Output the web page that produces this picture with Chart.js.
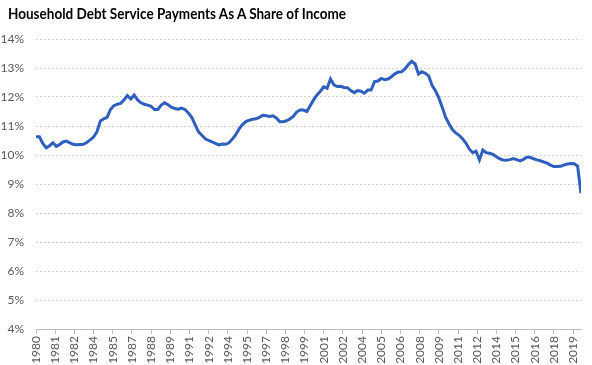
<!DOCTYPE html>
<html>
<head>
<meta charset="utf-8">
<script src="https://cdn.jsdelivr.net/npm/chart.js@4/dist/chart.umd.min.js"></script>
<style>
  html, body { margin: 0; padding: 0; background: #fff; }
  #wrap { position: relative; width: 592px; height: 365px; }
  #title {
    position: absolute; left: 8px; top: 3px; margin: 0;
    font: bold 16px/19px Lato, "Open Sans", sans-serif; color: #000;
    white-space: nowrap; transform: scaleX(0.845); transform-origin: 0 0;
  }
  canvas { position: absolute; left: 0; top: 0; }
</style>
</head>
<body>
<div id="wrap">
  <canvas id="dsrChart" width="592" height="365"></canvas>
  <div id="title">Household Debt Service Payments As A Share of Income</div>
</div>
<script>
// Quarterly, 1980 Q1 .. 2020 Q2 (percent of disposable income)
const ratio = [
  10.63, 10.63, 10.40, 10.25,  // 1980
  10.32, 10.42, 10.30, 10.36,  // 1981
  10.45, 10.48, 10.42, 10.37,  // 1982
  10.35, 10.36, 10.37, 10.43,  // 1983
  10.52, 10.62, 10.80, 11.17,  // 1984
  11.25, 11.30, 11.57, 11.70,  // 1985
  11.75, 11.78, 11.90, 12.05,  // 1986
  11.93, 12.07, 11.90, 11.80,  // 1987
  11.75, 11.72, 11.68, 11.57,  // 1988
  11.57, 11.72, 11.80, 11.73,  // 1989
  11.65, 11.60, 11.58, 11.62,  // 1990
  11.57, 11.45, 11.30, 11.05,  // 1991
  10.80, 10.68, 10.56, 10.50,  // 1992
  10.45, 10.40, 10.35, 10.38,  // 1993
  10.37, 10.42, 10.55, 10.70,  // 1994
  10.90, 11.05, 11.15, 11.20,  // 1995
  11.23, 11.25, 11.30, 11.37,  // 1996
  11.35, 11.33, 11.35, 11.28,  // 1997
  11.15, 11.15, 11.18, 11.24,  // 1998
  11.33, 11.48, 11.55, 11.55,  // 1999
  11.50, 11.70, 11.90, 12.07,  // 2000
  12.20, 12.35, 12.30, 12.62,  // 2001
  12.42, 12.36, 12.37, 12.33,  // 2002
  12.32, 12.22, 12.15, 12.22,  // 2003
  12.20, 12.13, 12.24, 12.24,  // 2004
  12.53, 12.55, 12.64, 12.60,  // 2005
  12.62, 12.70, 12.80, 12.86,  // 2006
  12.87, 12.97, 13.12, 13.23,  // 2007
  13.14, 12.79, 12.87, 12.82,  // 2008
  12.73, 12.40, 12.22, 11.97,  // 2009
  11.65, 11.30, 11.08, 10.88,  // 2010
  10.76, 10.68, 10.56, 10.41,  // 2011
  10.21, 10.08, 10.13, 9.83,   // 2012
  10.17, 10.08, 10.06, 10.02,  // 2013
  9.94, 9.87, 9.83, 9.82,      // 2014
  9.84, 9.88, 9.84, 9.80,      // 2015
  9.85, 9.92, 9.92, 9.87,      // 2016
  9.83, 9.80, 9.76, 9.72,      // 2017
  9.65, 9.60, 9.60, 9.61,      // 2018
  9.66, 9.69, 9.71, 9.70,      // 2019
  9.62, 8.68                   // 2020
];

// x axis labels as Excel printed them (one every 17 months)
const yearLabels = [
  '1980', '1981', '1982', '1984', '1985', '1987', '1988', '1989', '1991', '1992',
  '1994', '1995', '1997', '1998', '1999', '2001', '2002', '2004', '2005', '2006',
  '2008', '2009', '2011', '2012', '2014', '2015', '2016', '2018', '2019'
];
const labelStep = 17 / 3; // in quarters

const yMin = 4;
const yMax = 14;

const quarters = ratio.map((v, i) => (1980 + Math.floor(i / 4)) + ' Q' + (i % 4 + 1));

const axisFont = { family: 'Lato, "Open Sans", sans-serif', size: 12 };
const gray = '#595959';

const ctx = document.getElementById('dsrChart').getContext('2d');
const dsrChart = new Chart(ctx, {
    type: 'line',
    data: {
        datasets: [{
            label: 'Debt service ratio',
            data: ratio.map((v, i) => ({ x: i, y: v, q: quarters[i] })),
            borderColor: '#2f5fbd',
            borderWidth: 3,
            pointRadius: 0,
            tension: 0,
            fill: false
        }]
    },
    options: {
        responsive: false,
        animation: false,
        layout: { padding: { left: 0, right: 11, top: 39, bottom: 0 } },
        plugins: {
            legend: { display: false },
            tooltip: { enabled: false }
        },
        scales: {
            x: {
                type: 'linear',
                min: 0,
                max: ratio.length - 1,
                afterBuildTicks: function (scale) {
                    scale.ticks = yearLabels.map((l, k) => ({ value: k * labelStep }));
                },
                afterFit: function (scale) { scale.height = 36; },
                ticks: {
                    autoSkip: false,
                    minRotation: 90,
                    maxRotation: 90,
                    padding: 2,
                    color: gray,
                    font: axisFont,
                    callback: function (value, index) { return yearLabels[index]; }
                },
                grid: {
                    drawOnChartArea: false,
                    drawTicks: true,
                    tickLength: 5,
                    color: '#bfbfbf'
                },
                border: { display: true, color: '#bfbfbf', width: 1 }
            },
            y: {
                min: yMin,
                max: yMax,
                afterFit: function (scale) { scale.width = 36; },
                ticks: {
                    stepSize: 1,
                    padding: 12,
                    color: gray,
                    font: axisFont,
                    callback: function (value) { return value + '%'; }
                },
                grid: {
                    drawTicks: false,
                    color: function (c) { return c.tick.value === yMin ? 'rgba(0,0,0,0)' : '#d0d0d0'; },
                    lineWidth: 1
                },
                border: { display: false, dash: [2, 2] }
            }
        }
    }
});
</script>
</body>
</html>
